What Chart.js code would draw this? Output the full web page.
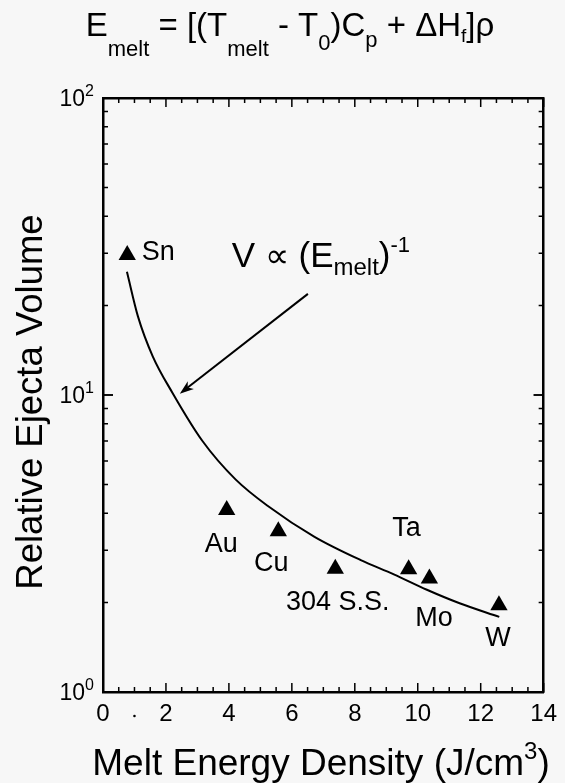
<!DOCTYPE html>
<html><head><meta charset="utf-8">
<script src="https://cdn.jsdelivr.net/npm/chart.js@4/dist/chart.umd.min.js"></script>
<style>html,body{margin:0;padding:0;background:#f7f7f7;}canvas{display:block;}</style>
</head><body>
<canvas id="c" width="565" height="783"></canvas>
<script>
const FONT = "'Liberation Sans', Arial, Helvetica, sans-serif";

// ---- data ----
const metals = ['Sn', 'Au', 'Cu', '304 S.S.', 'Ta', 'Mo', 'W'];
const meltEnergy = [0.77, 3.93, 5.57, 7.38, 9.71, 10.37, 12.58];
const ejectaVolume = [29.6, 4.10, 3.48, 2.60, 2.59, 2.41, 1.96];
const fitEnergy = [0.76, 1.11, 1.58, 2.20, 3.16, 4.21, 5.25, 6.72, 8.19, 9.24, 10.29, 11.33, 12.59];
const fitVolume = [26.0, 18.4, 13.5, 10.2, 7.0, 5.2, 4.22, 3.33, 2.78, 2.49, 2.21, 1.99, 1.79];
const xTickValues = [0, 2, 4, 6, 8, 10, 12, 14];
const yTickValues = [1, 10, 100];
const yTickExponents = ['0', '1', '2'];

// ---- label placement (pixel offsets from each point) ----
const labelOffsets = {
  'Sn': {dx: 14.5, dy: -2, align: 'left'},
  'Au': {dx: -5.5, dy: 35, align: 'center'},
  'Cu': {dx: -7, dy: 32, align: 'center'},
  '304 S.S.': {dx: 2.5, dy: 34, align: 'center'},
  'Ta': {dx: -2, dy: -41, align: 'center'},
  'Mo': {dx: 4.5, dy: 40, align: 'center'},
  'W': {dx: -1, dy: 33, align: 'center'}
};
const arrowFrom = {x: 6.51, y: 21.9};
const arrowTo = {x: 2.44, y: 10.1};
const fitLabelAt = {x: 4.09, y: 27.0};

function drawRich(ctx, segs, x, y, align) {
  let total = 0;
  segs.forEach(s => { ctx.font = s.size + 'px ' + FONT; s.w = ctx.measureText(s.t).width; total += s.w; });
  let cx = align === 'center' ? x - total / 2 : (align === 'right' ? x - total : x);
  ctx.textAlign = 'left';
  ctx.textBaseline = 'alphabetic';
  segs.forEach(s => { ctx.font = s.size + 'px ' + FONT; ctx.fillText(s.t, cx, y + (s.dy || 0)); cx += s.w; });
}

const decor = {
  id: 'decor',
  afterDraw(chart) {
    const ctx = chart.ctx, a = chart.chartArea, xs = chart.scales.x, ys = chart.scales.y;
    ctx.save();
    ctx.strokeStyle = '#000';
    ctx.fillStyle = '#000';
    ctx.lineWidth = 1.5;
    // inward ticks, x (bottom and top)
    for (let i = 0; i <= 28; i++) {
      const v = i * 0.5;
      const px = xs.getPixelForValue(v);
      const len = (i % 4 === 0) ? 9 : 5;
      ctx.beginPath();
      ctx.moveTo(px, a.bottom); ctx.lineTo(px, a.bottom - len);
      ctx.moveTo(px, a.top); ctx.lineTo(px, a.top + len);
      ctx.stroke();
    }
    // inward ticks, y (left and right), log
    [1, 10].forEach(dec => {
      for (let k = 1; k <= 10; k++) {
        const v = k * dec;
        const py = ys.getPixelForValue(v);
        const len = (k === 1 || k === 10) ? 10 : 5;
        ctx.beginPath();
        ctx.moveTo(a.left, py); ctx.lineTo(a.left + len, py);
        ctx.moveTo(a.right, py); ctx.lineTo(a.right - len, py);
        ctx.stroke();
      }
    });
    // y tick labels 10^n
    yTickValues.forEach((v, i) => {
      const py = ys.getPixelForValue(v);
      drawRich(ctx, [{t: '10', size: 23}, {t: yTickExponents[i], size: 16, dy: -10}], a.left - 9, py + 8, 'right');
    });
    // stray dot at x = 1 on the tick label row
    ctx.beginPath(); ctx.arc(xs.getPixelForValue(1), 716, 1.3, 0, Math.PI * 2); ctx.fill();

    // point labels
    const meta = chart.getDatasetMeta(1);
    ctx.font = '27px ' + FONT;
    ctx.textBaseline = 'middle';
    metals.forEach((m, i) => {
      const el = meta.data[i];
      const o = labelOffsets[m];
      ctx.textAlign = o.align;
      ctx.fillText(m, el.x + o.dx, el.y + o.dy);
    });

    // fit label  V ∝ (E_melt)^-1
    drawRich(ctx, [
      {t: 'V ', size: 35}, {t: '\u221D', size: 34}, {t: ' (E', size: 35},
      {t: 'melt', size: 24, dy: 8}, {t: ')', size: 35}, {t: '-1', size: 22, dy: -15}
    ], xs.getPixelForValue(fitLabelAt.x), ys.getPixelForValue(fitLabelAt.y), 'left');

    // arrow
    const x0 = xs.getPixelForValue(arrowFrom.x), y0 = ys.getPixelForValue(arrowFrom.y);
    const x1 = xs.getPixelForValue(arrowTo.x), y1 = ys.getPixelForValue(arrowTo.y);
    const ang = Math.atan2(y1 - y0, x1 - x0);
    ctx.lineWidth = 2;
    ctx.beginPath(); ctx.moveTo(x0, y0); ctx.lineTo(x1 - 8 * Math.cos(ang), y1 - 8 * Math.sin(ang)); ctx.stroke();
    ctx.beginPath();
    ctx.moveTo(x1, y1);
    ctx.lineTo(x1 - 14 * Math.cos(ang) + 5 * Math.sin(ang), y1 - 14 * Math.sin(ang) - 5 * Math.cos(ang));
    ctx.lineTo(x1 - 10 * Math.cos(ang), y1 - 10 * Math.sin(ang));
    ctx.lineTo(x1 - 14 * Math.cos(ang) - 5 * Math.sin(ang), y1 - 14 * Math.sin(ang) + 5 * Math.cos(ang));
    ctx.closePath(); ctx.fill();

    // chart title formula
    drawRich(ctx, [
      {t: 'E', size: 33}, {t: 'melt', size: 22, dy: 20}, {t: ' = [(T', size: 33},
      {t: 'melt', size: 22, dy: 20}, {t: ' - T', size: 33}, {t: '0', size: 22, dy: 14},
      {t: ')C', size: 33}, {t: 'p', size: 22, dy: 11}, {t: ' + \u0394H', size: 33},
      {t: 'f', size: 19, dy: 6}, {t: ']\u03C1', size: 33}
    ], 290, 36, 'center');

    // x axis title
    drawRich(ctx, [
      {t: 'Melt Energy Density (J/cm', size: 37}, {t: '3', size: 24, dy: -16}, {t: ')', size: 37}
    ], 321, 775, 'center');

    // y axis title
    ctx.save();
    ctx.translate(42, 402);
    ctx.rotate(-Math.PI / 2);
    ctx.font = '36.5px ' + FONT;
    ctx.textAlign = 'center';
    ctx.textBaseline = 'alphabetic';
    ctx.fillText('Relative Ejecta Volume', 0, 0);
    ctx.restore();

    ctx.restore();
  }
};

const borderOpt = {display: true, color: '#000', width: 2.5};
new Chart(document.getElementById('c'), {
  type: 'scatter',
  data: {
    datasets: [
      {
        label: 'V \u221D (E_melt)^-1',
        data: fitEnergy.map((e, i) => ({x: e, y: fitVolume[i]})),
        showLine: true, borderColor: '#000', borderWidth: 2, pointRadius: 0,
        cubicInterpolationMode: 'monotone', fill: false
      },
      {
        label: 'metals',
        data: meltEnergy.map((e, i) => ({x: e, y: ejectaVolume[i]})),
        pointStyle: 'triangle', pointRadius: 10, backgroundColor: '#000',
        borderColor: '#000', borderWidth: 0
      }
    ]
  },
  options: {
    responsive: false, animation: false, devicePixelRatio: 1,
    plugins: {legend: {display: false}, tooltip: {enabled: false}},
    layout: {padding: {top: 98, right: 17, left: 0, bottom: 0}},
    scales: {
      x: {
        type: 'linear', position: 'bottom', min: 0, max: 14,
        grid: {display: false, drawTicks: false}, border: borderOpt,
        afterBuildTicks: s => { s.ticks = xTickValues.map(v => ({value: v})); },
        ticks: {color: '#000', font: {family: FONT, size: 24}, padding: 8, autoSkip: false, maxRotation: 0},
        afterFit: s => { s.height = 91; }
      },
      y: {
        type: 'logarithmic', position: 'left', min: 1, max: 100,
        grid: {display: false, drawTicks: false}, border: borderOpt,
        afterBuildTicks: s => { s.ticks = yTickValues.map(v => ({value: v})); },
        ticks: {display: false},
        afterFit: s => { s.width = 103; }
      },
      x2: {
        type: 'linear', position: 'top', min: 0, max: 14, display: true,
        grid: {display: false, drawTicks: false}, border: borderOpt,
        ticks: {display: false}, afterFit: s => { s.height = 0; }
      },
      y2: {
        type: 'logarithmic', position: 'right', min: 1, max: 100, display: true,
        grid: {display: false, drawTicks: false}, border: borderOpt,
        ticks: {display: false}, afterFit: s => { s.width = 0; }
      }
    }
  },
  plugins: [decor]
});
</script>
</body></html>
